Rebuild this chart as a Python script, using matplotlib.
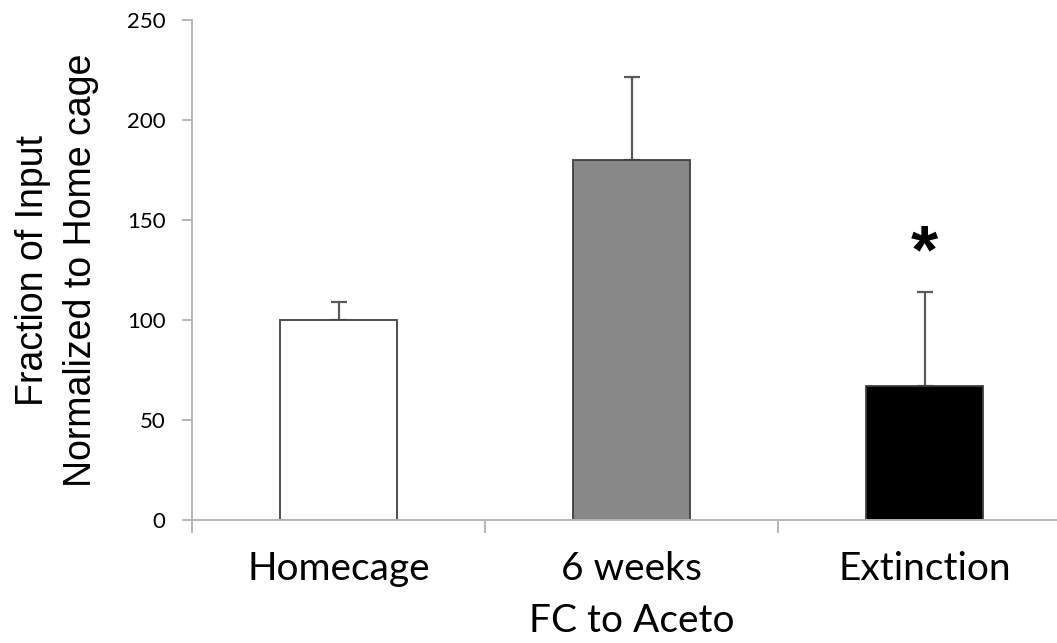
import numpy as np
import matplotlib.pyplot as plt

# data
groups = ["Homecage", "6 weeks\nFC to Aceto", "Extinction"]
means = [100, 180, 67]
err_up = [9, 41.5, 47]
bar_colors = ["white", "#888888", "black"]
star_group = 2
star_value = 133

fig = plt.figure(figsize=(10.57, 6.43), dpi=100)
ax = fig.add_axes([192 / 1057, 123 / 643, 879 / 1057, 500 / 643])

x = np.arange(len(groups))
ax.bar(x, means, width=0.4, color=bar_colors, edgecolor="#404040", linewidth=1.3, zorder=2)
ax.errorbar(x, means, yerr=[np.zeros(len(means)), err_up], fmt="none",
            ecolor="#5a5a5a", elinewidth=1.6, capsize=5.5, capthick=1.6, zorder=1)

ax.text(x[star_group], star_value, "*", ha="center", va="center",
        fontsize=50, family="Liberation Sans", fontweight="bold")

ax.set_xlim(-0.5, 2.5)
ax.set_ylim(0, 250)
ax.set_yticks(np.arange(0, 251, 50))
ax.set_xticks(x)
ax.set_xticklabels(groups, family="Lato", fontsize=28, linespacing=1.55)
ax.set_xticks(np.arange(-0.5, 2.6, 1), minor=True)
ax.tick_params(axis="x", which="major", length=0, pad=22)
ax.tick_params(axis="x", which="minor", length=9, width=1.4, color="#b5b5b5")
ax.tick_params(axis="y", length=7, width=1.4, color="#b5b5b5", labelsize=16, pad=12)
for lab in ax.get_yticklabels():
    lab.set_family("Lato")

for side in ["top", "right"]:
    ax.spines[side].set_visible(False)
for side in ["left", "bottom"]:
    ax.spines[side].set_color("#b5b5b5")
    ax.spines[side].set_linewidth(1.4)

ax.set_ylabel("Fraction of Input\nNormalized to Home cage", family="Liberation Sans",
              fontsize=27, linespacing=1.45, labelpad=20)

fig.savefig("out.png", dpi=100)
